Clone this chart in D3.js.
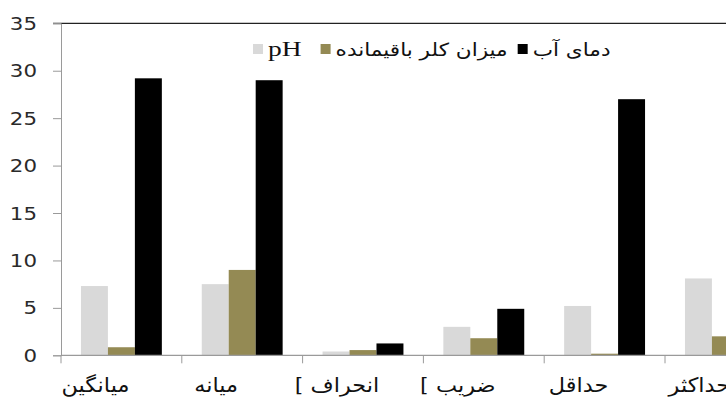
<!DOCTYPE html>
<html><head><meta charset="utf-8">
<script src="https://cdn.jsdelivr.net/npm/d3@7"></script>
<style>
html,body{margin:0;padding:0;background:#fff;overflow:hidden;}
svg{display:block;}
</style></head>
<body>
<script>
const categories = ["میانگین", "میانه", "[ انحراف", "[ ضریب", "حداقل", "حداکثر"];
const seriesNames = ["pH", "میزان کلر باقیمانده", "دمای آب"];
const phValues = [7.3, 7.5, 0.4, 3.0, 5.2, 8.1];
const chlorineValues = [0.85, 9.0, 0.55, 1.8, 0.17, 2.0];
const tempValues = [29.2, 29.0, 1.25, 4.9, 27.0, 30.5];
const yTicks = [0, 5, 10, 15, 20, 25, 30, 35];
const colors = ["#d9d9d9", "#948a54", "#000000"];

const W = 726, H = 412;
const svg = d3.select("body").append("svg").attr("width", W).attr("height", H);

const plotLeft = 61, plotTop = 23.3, plotBottom = 355.3, bandW = 120.8;
const x0 = d3.scaleBand().domain(categories).range([plotLeft, plotLeft + bandW * categories.length]).padding(0);
const x1 = d3.scaleBand().domain(seriesNames).range([0, x0.bandwidth()]).paddingInner(0).paddingOuter(0.74);
const y = d3.scaleLinear().domain([0, 35]).range([plotBottom, plotTop]);

const allSeries = [phValues, chlorineValues, tempValues];

// top border line
svg.append("line").attr("x1", 53).attr("x2", W).attr("y1", y(35)).attr("y2", y(35))
  .attr("stroke", "#222").attr("stroke-width", 1.2);

// bars
const g = svg.append("g");
categories.forEach((c, i) => {
  seriesNames.forEach((s, j) => {
    g.append("rect")
      .attr("x", x0(c) + x1(s))
      .attr("y", y(allSeries[j][i]))
      .attr("width", x1.bandwidth())
      .attr("height", y(0) - y(allSeries[j][i]))
      .attr("fill", colors[j]);
  });
});

// y axis
const yAxis = d3.axisLeft(y).tickValues(yTicks).tickSize(8).tickFormat(d3.format("d"));
const ya = svg.append("g").attr("transform", `translate(${plotLeft},0)`).call(yAxis);
ya.select(".domain").attr("stroke", "#9a9a9a");
ya.selectAll(".tick line").attr("stroke", "#9a9a9a");
ya.selectAll(".tick text").remove();
yTicks.forEach(t => {
  svg.append("text")
    .attr("transform", `translate(37,${y(t) + 6.5}) scale(1.22,1)`)
    .attr("text-anchor", "end")
    .attr("font-family", "DejaVu Sans")
    .attr("font-size", 17.5)
    .attr("fill", "#2a2a2a")
    .text(t);
});

// x axis
svg.append("line").attr("x1", plotLeft).attr("x2", W).attr("y1", y(0)).attr("y2", y(0))
  .attr("stroke", "#9a9a9a").attr("stroke-width", 1.2);
categories.forEach((c) => {
  svg.append("line").attr("x1", x0(c)).attr("x2", x0(c)).attr("y1", y(0)).attr("y2", y(0) + 8)
    .attr("stroke", "#9a9a9a");
});
categories.forEach((c) => {
  svg.append("text")
    .attr("transform", `translate(${x0(c) + x0.bandwidth() / 2 - 26},${y(0) + 37}) scale(1.12,1)`)
    .attr("text-anchor", "middle")
    .attr("font-family", "DejaVu Sans")
    .attr("font-size", 20)
    .attr("fill", "#111")
    .text(c);
});

// legend
let lx = 253;
const ly = 49;
seriesNames.forEach((s, j) => {
  svg.append("rect").attr("x", lx).attr("y", ly - 5).attr("width", 10).attr("height", 10).attr("fill", colors[j]);
  lx += 15;
  const isLatin = /^[A-Za-z]+$/.test(s);
  const sx = isLatin ? 1.25 : 1.2;
  const t = svg.append("text")
    .attr("transform", `translate(${lx},${ly + 7}) scale(${sx},1)`)
    .attr("font-family", isLatin ? "Liberation Serif" : "DejaVu Sans")
    .attr("font-size", isLatin ? 22 : 18)
    .attr("fill", "#111")
    .text(s);
  const w = t.node().getComputedTextLength() * sx;
  lx += w + (isLatin ? 19 : 10);
});
</script>
</body></html>
